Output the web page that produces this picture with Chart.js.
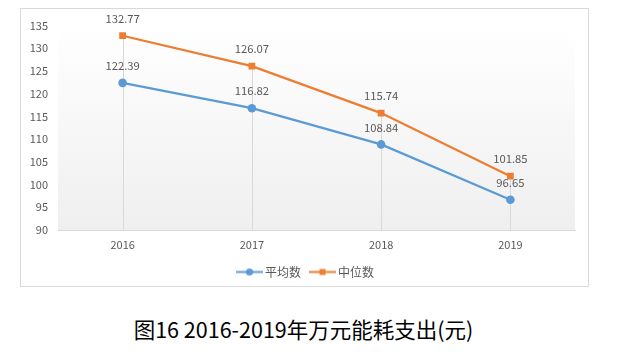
<!DOCTYPE html>
<html>
<head>
<meta charset="utf-8">
<script src="https://cdn.jsdelivr.net/npm/chart.js@4/dist/chart.umd.min.js"></script>
<style>
  body { margin: 0; background: #fff; }
  #box {
    position: absolute; left: 20px; top: 8px;
    width: 567px; height: 277px;
    border: 1px solid #d9d9d9;
  }
  #cap {
    position: absolute; left: 0; top: 314px; width: 607px;
    text-align: center; font: 21.5px/30px "Noto Sans CJK SC", sans-serif; color: #000;
  }
</style>
</head>
<body>
<div id="box"><canvas id="energyChart"></canvas></div>
<div id="cap">图16 2016-2019年万元能耗支出(元)</div>
<script>
/* data */
const years = ["2016", "2017", "2018", "2019"];
const meanValues = [122.39, 116.82, 108.84, 96.65];
const medianValues = [132.77, 126.07, 115.74, 101.85];
const yTicks = [90, 95, 100, 105, 110, 115, 120, 125, 130, 135];

const BLUE = "#5b9bd5";
const ORANGE = "#ed7d31";
const GREY_TEXT = "#595959";
const FONT = "'Noto Sans CJK SC', sans-serif";

/* legend symbols: short line with marker */
function legendSymbol(color, shape) {
  const c = document.createElement("canvas");
  c.width = 27; c.height = 9;
  const g = c.getContext("2d");
  g.strokeStyle = color; g.lineWidth = 2;
  g.beginPath(); g.moveTo(0, 4.5); g.lineTo(27, 4.5); g.stroke();
  g.fillStyle = color;
  if (shape === "circle") {
    g.beginPath(); g.arc(13.5, 4.5, 3.6, 0, Math.PI * 2); g.fill();
  } else {
    g.fillRect(10.5, 1.5, 6, 6);
  }
  return c;
}

/* plot background gradient */
const plotBackground = {
  id: "plotBackground",
  beforeDraw(chart) {
    const { ctx, chartArea: a } = chart;
    const grad = ctx.createLinearGradient(0, a.top, 0, a.bottom);
    grad.addColorStop(0, "#ffffff");
    grad.addColorStop(1, "#efefef");
    ctx.save();
    ctx.fillStyle = grad;
    ctx.fillRect(a.left, a.top, a.right - a.left, a.bottom - a.top);
    ctx.restore();
  }
};

/* drop lines from the highest point to the axis */
const dropLines = {
  id: "dropLines",
  beforeDatasetsDraw(chart) {
    const { ctx, chartArea: a, scales } = chart;
    ctx.save();
    ctx.strokeStyle = "#d9d9d9";
    ctx.lineWidth = 1;
    years.forEach((_, i) => {
      const top = Math.max(meanValues[i], medianValues[i]);
      const x = Math.round(scales.x.getPixelForValue(i)) + 0.5;
      ctx.beginPath();
      ctx.moveTo(x, scales.y.getPixelForValue(top));
      ctx.lineTo(x, a.bottom);
      ctx.stroke();
    });
    ctx.restore();
  }
};

/* value labels above the points */
const valueLabels = {
  id: "valueLabels",
  afterDatasetsDraw(chart) {
    const { ctx } = chart;
    ctx.save();
    ctx.font = "11.3px " + FONT;
    ctx.fillStyle = GREY_TEXT;
    ctx.textAlign = "center";
    ctx.textBaseline = "middle";
    chart.data.datasets.forEach((ds, di) => {
      chart.getDatasetMeta(di).data.forEach((pt, i) => {
        ctx.fillText(ds.data[i].toFixed(2), pt.x, pt.y - 17);
      });
    });
    ctx.restore();
  }
};

/* legend sits a little right of centre */
const legendNudge = {
  id: "legendNudge",
  afterLayout(chart) {
    chart.legend.left += 9;
    chart.legend.right += 9;
  }
};

new Chart(document.getElementById("energyChart"), {
  type: "line",
  data: {
    labels: years,
    datasets: [
      {
        label: "平均数",
        data: meanValues,
        borderColor: BLUE,
        backgroundColor: BLUE,
        borderWidth: 2.25,
        pointStyle: "circle",
        pointRadius: 4.3,
        pointBorderWidth: 0,
        tension: 0
      },
      {
        label: "中位数",
        data: medianValues,
        borderColor: ORANGE,
        backgroundColor: ORANGE,
        borderWidth: 2.25,
        pointStyle: "rect",
        pointRadius: 4.8,
        pointBorderWidth: 0,
        tension: 0
      }
    ]
  },
  options: {
    responsive: true,
    maintainAspectRatio: false,
    animation: false,
    layout: { padding: { top: 16, right: 13, bottom: -2, left: 0 } },
    plugins: {
      tooltip: { enabled: false },
      legend: {
        position: "bottom",
        labels: {
          usePointStyle: true,
          pointStyleWidth: 19,
          padding: 12,
          color: GREY_TEXT,
          font: { size: 12, family: FONT },
          generateLabels(chart) {
            return chart.data.datasets.map((ds, i) => ({
              text: ds.label,
              pointStyle: legendSymbol(ds.borderColor, i === 0 ? "circle" : "rect"),
              fontColor: GREY_TEXT,
              datasetIndex: i,
              hidden: false,
              lineWidth: 0
            }));
          }
        }
      }
    },
    scales: {
      x: {
        offset: true,
        grid: { display: false, drawTicks: false },
        border: { display: true, color: "#d9d9d9", width: 1 },
        ticks: { color: GREY_TEXT, padding: 8, font: { size: 11, family: FONT } },
        afterFit(axis) { axis.height = 24; }
      },
      y: {
        min: 90,
        max: 135,
        afterBuildTicks(axis) { axis.ticks = yTicks.map(v => ({ value: v })); },
        grid: { display: false, drawTicks: false },
        border: { display: false },
        ticks: { color: GREY_TEXT, padding: 10, font: { size: 11, family: FONT } },
        afterFit(axis) { axis.width = 37; }
      }
    }
  },
  plugins: [plotBackground, dropLines, valueLabels, legendNudge]
});
</script>
</body>
</html>
